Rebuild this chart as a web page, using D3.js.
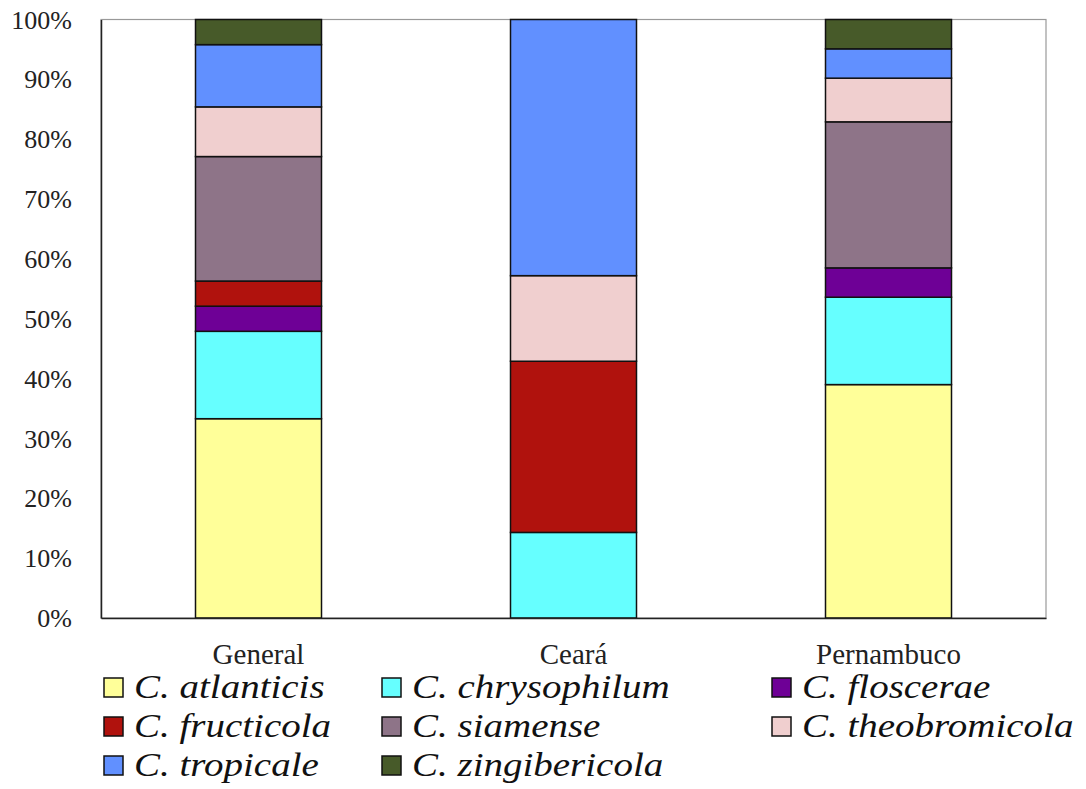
<!DOCTYPE html>
<html><head><meta charset="utf-8">
<script src="https://cdn.jsdelivr.net/npm/d3@7"></script>
<style>body{margin:0;background:#fff}svg{display:block}</style>
</head><body>
<svg id="c" width="1086" height="789"></svg>
<script>
const categories = ["General", "Ceará", "Pernambuco"];
const species = ["C. atlanticis","C. chrysophilum","C. floscerae","C. fructicola","C. siamense","C. theobromicola","C. tropicale","C. zingibericola"];
const colors = ["#ffff99","#66ffff","#6e0096","#b0120d","#8e7488","#f0cfcf","#6190ff","#475a29"];
// percentages per species for [General, Ceará, Pernambuco]
const atlanticis    = [33.3, 0, 39.0];
const chrysophilum  = [14.6, 14.3, 14.6];
const floscerae     = [4.2, 0, 4.9];
const fructicola    = [4.2, 28.6, 0];
const siamense      = [20.8, 0, 24.4];
const theobromicola = [8.3, 14.3, 7.3];
const tropicale     = [10.4, 42.8, 4.9];
const zingibericola = [4.2, 0, 4.9];
const yTicks = [0,10,20,30,40,50,60,70,80,90,100];

const seriesVals = [atlanticis,chrysophilum,floscerae,fructicola,siamense,theobromicola,tropicale,zingibericola];
const table = categories.map((c,i)=>{const o={cat:c}; species.forEach((s,j)=>o[s]=seriesVals[j][i]); return o;});
const stack = d3.stack().keys(species)(table);

const svg = d3.select("#c");
const L=101, R=1046, T=19.5, B=618;
const x = d3.scaleBand().domain(categories).range([L,R]).paddingInner(0.6).paddingOuter(0.3);
const y = d3.scaleLinear().domain([0,100]).range([B,T]);
const font = "'Liberation Serif','Times New Roman',serif";

// plot frame
svg.append("rect").attr("x",L).attr("y",T).attr("width",R-L).attr("height",B-T)
  .attr("fill","none").attr("stroke","#999").attr("stroke-width",1.2);

svg.append("g").selectAll("g").data(stack).join("g").attr("fill",(d,i)=>colors[i])
  .selectAll("rect").data(d=>d).join("rect")
  .attr("x",d=>x(d.data.cat)).attr("width",x.bandwidth())
  .attr("y",d=>y(d[1])).attr("height",d=>y(d[0])-y(d[1]))
  .attr("stroke","#111").attr("stroke-width",1.5)
  .style("display",d=>d[1]-d[0]>0?null:"none");

// axes
const ya = svg.append("g").attr("transform",`translate(${L},0)`)
  .call(d3.axisLeft(y).tickValues(yTicks).tickFormat(d=>d+"%").tickSize(0).tickPadding(29));
ya.select(".domain").attr("stroke","#222").attr("stroke-width",1.5);
ya.selectAll("text").style("font-family",font).style("font-size","26px").attr("fill","#222").attr("dy","0.33em");

const xa = svg.append("g").attr("transform",`translate(0,${B})`)
  .call(d3.axisBottom(x).tickSize(0).tickPadding(25));
xa.select(".domain").attr("stroke","#222").attr("stroke-width",1.5);
xa.selectAll("text").style("font-family",font).style("font-size","29px").attr("fill","#222");

// legend
const colX=[104,382,772], rowY=[678,717,756];
const lg = svg.append("g").selectAll("g").data(species).join("g")
  .attr("transform",(d,i)=>`translate(${colX[i%3]},${rowY[Math.floor(i/3)]})`);
lg.append("rect").attr("width",19).attr("height",19).attr("fill",(d,i)=>colors[i])
  .attr("stroke","#111").attr("stroke-width",1.5);
lg.append("text").attr("transform","translate(30,20) scale(1,0.84)").text(d=>d)
  .style("font-family",font).style("font-size","39px").style("font-style","italic").attr("fill","#111");
</script>
</body></html>
